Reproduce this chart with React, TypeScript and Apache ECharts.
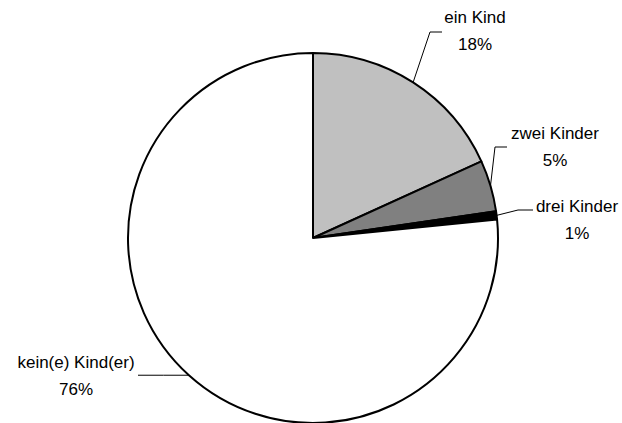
import React, { useEffect, useRef } from "react";
import * as echarts from "echarts";

const categories = ["ein Kind", "zwei Kinder", "drei Kinder", "kein(e) Kind(er)"];
const values = [18.2, 4.5, 0.7, 76.6];
const percentLabels = ["18%", "5%", "1%", "76%"];
const colors = ["#c0c0c0", "#808080", "#000000", "#ffffff"];

// label placement (layout only)
const labelPlacement = [
  { x: 475, y: 31, elbow: [430, 32], end: [442, 32] },
  { x: 555, y: 147, elbow: [495, 147], end: [507, 147] },
  { x: 577, y: 220, elbow: [518, 210], end: [533, 210] },
  { x: 76, y: 376, elbow: null as any, end: [138, 0] },
];

const CX = 313;
const CY = 238;
const R = 185;

export default function App() {
  const ref = useRef<HTMLDivElement>(null);
  useEffect(() => {
    document.body.style.margin = "0";
    if (!ref.current) return;
    const chart = echarts.init(ref.current, undefined, { renderer: "svg" });
    const total = values.reduce((a, b) => a + b, 0);
    const edgePoint = (i: number) => {
      let before = 0;
      for (let k = 0; k < i; k++) before += values[k];
      const mid = ((before + values[i] / 2) / total) * Math.PI * 2;
      return [CX + R * Math.sin(mid), CY - R * Math.cos(mid)];
    };
    chart.setOption({
      animation: false,
      backgroundColor: "#ffffff",
      series: [
        {
          type: "pie",
          center: [CX, CY],
          radius: R,
          startAngle: 90,
          clockwise: true,
          avoidLabelOverlap: false,
          data: categories.map((name, i) => ({
            name,
            value: values[i],
            itemStyle: { color: colors[i] },
          })),
          itemStyle: { borderColor: "#000000", borderWidth: 2 },
          emphasis: { disabled: true },
          label: {
            show: true,
            formatter: (p: any) => `${p.name}\n${percentLabels[p.dataIndex]}`,
            fontFamily: "'Liberation Sans', Arial, sans-serif",
            fontSize: 17,
            lineHeight: 27,
            color: "#000000",
            align: "center",
          },
          labelLine: {
            show: true,
            length: 15,
            length2: 12,
            lineStyle: { color: "#000000", width: 1 },
          },
          labelLayout: (params: any) => {
            const i = params.dataIndex;
            const lp = labelPlacement[i];
            const start =
              params.labelLinePoints && params.labelLinePoints[0]
                ? params.labelLinePoints[0]
                : edgePoint(i);
            let pts;
            if (lp.elbow) {
              pts = [start, lp.elbow, lp.end];
            } else {
              const endPt = [lp.end[0], start[1]];
              pts = [start, [(start[0] + endPt[0]) / 2, start[1]], endPt];
            }
            return {
              x: lp.x,
              y: lp.y,
              align: "center",
              verticalAlign: "middle",
              labelLinePoints: pts,
            };
          },
        },
      ],
    });
    return () => chart.dispose();
  }, []);
  return <div ref={ref} style={{ width: 622, height: 423 }} />;
}
